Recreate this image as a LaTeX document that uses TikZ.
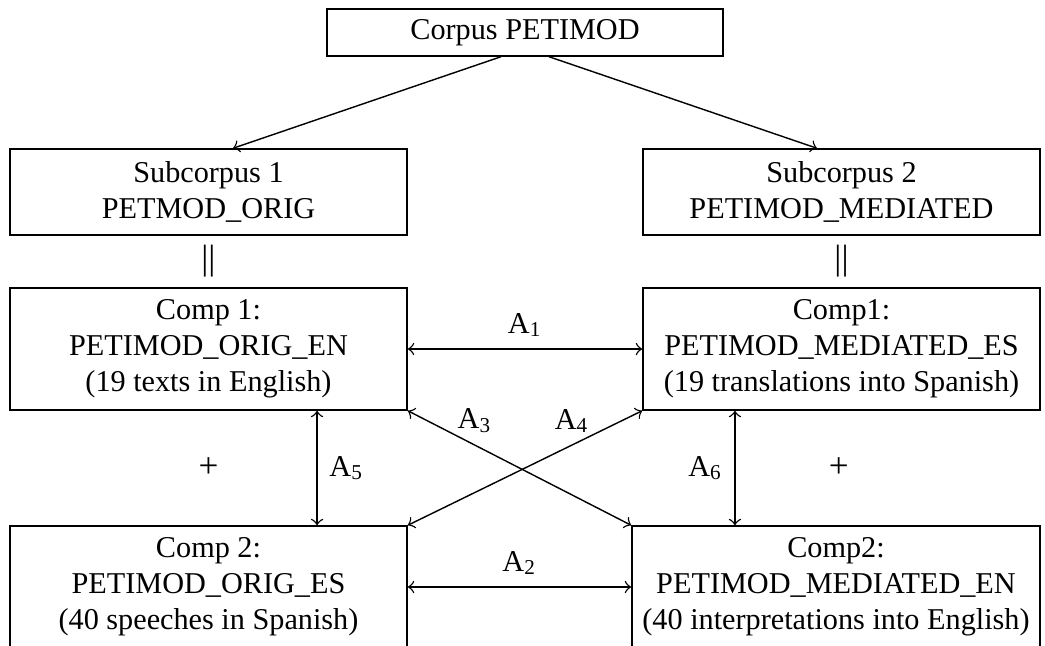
\documentclass[tikz,border=0pt]{standalone}
\usepackage{fontspec}
\setmainfont{Liberation Serif}
\usetikzlibrary{positioning, calc}

\begin{document}
\begin{tikzpicture}[
  x=0.01cm, y=-0.01cm,
  font=\fontsize{8.6}{10.2}\selectfont,
  box/.style={
    rectangle,
    draw,
    align=center,
    minimum width=3.97cm,
    minimum height=1.22cm,
    inner sep=2pt
  },
  subbox/.style={box, minimum height=0.86cm},
  arrow/.style={->},
  twoway/.style={<->}
]
  \useasboundingbox (0,0) rectangle (1045,645);
  \clip (0,0) rectangle (1045,645);

  % Nodes
  \node (corpus) [box, minimum width=3.96cm, minimum height=0.47cm] at (525,32.5) {Corpus PETIMOD};

  \node (sub1) [subbox] at (208.5,192) {Subcorpus 1\\PETMOD\_ORIG};
  \node (sub2) [subbox] at (841.5,192) {Subcorpus 2\\PETIMOD\_MEDIATED};

  \node (comp1l) [box] at (208.5,349) {Comp 1:\\PETIMOD\_ORIG\_EN\\(19 texts in English)};
  \node (comp1r) [box] at (841.5,349) {Comp1:\\PETIMOD\_MEDIATED\_ES\\(19 translations into Spanish)};

  \node (comp2l) [box] at (208.5,587) {Comp 2:\\PETIMOD\_ORIG\_ES\\(40 speeches in Spanish)};
  \node (comp2r) [box, minimum width=4.08cm] at (836,587) {Comp2:\\PETIMOD\_MEDIATED\_EN\\(40 interpretations into English)};

  \node (eql) [font=\fontsize{10}{12}\selectfont] at ($(sub1.south)!0.5!(comp1l.north)$) {||};
  \node (eqr) [font=\fontsize{10}{12}\selectfont] at ($(sub2.south)!0.5!(comp1r.north)$) {||};
  \node (plusl) [font=\fontsize{10}{12}\selectfont] at ($(comp1l.south)!0.5!(comp2l.north)$) {+};
  \node (plusr) [font=\fontsize{10}{12}\selectfont] at ($(comp1r.south)!0.5!(comp2r.north)$) {+};

  % Arrows
  \draw [arrow] ([xshift=-0.24cm]corpus.south) -- ([xshift=0.245cm]sub1.north);
  \draw [arrow] ([xshift=0.24cm]corpus.south) -- ([xshift=-0.245cm]sub2.north);

  \draw [twoway] (comp1l) -- node[above] {A\textsubscript{1}} (comp1r);
  \draw [twoway] (comp2l) -- node[above] {A\textsubscript{2}} (comp2r);
  \draw [twoway] (comp1l.south east) -- node[pos=0.3, above] {A\textsubscript{3}} (comp2r.north west);
  \draw [twoway] (comp1r.south west) -- node[pos=0.3, above] {A\textsubscript{4}} (comp2l.north east);
  \draw [twoway] ([xshift=1.085cm]comp1l.south) -- node[right] {A\textsubscript{5}} ([xshift=1.085cm]comp2l.north);
  \draw [twoway] ([xshift=-1.065cm]comp1r.south) -- node[left] {A\textsubscript{6}} ([xshift=-1.065cm]comp1r.south |- comp2r.north);

\end{tikzpicture}
\end{document}
